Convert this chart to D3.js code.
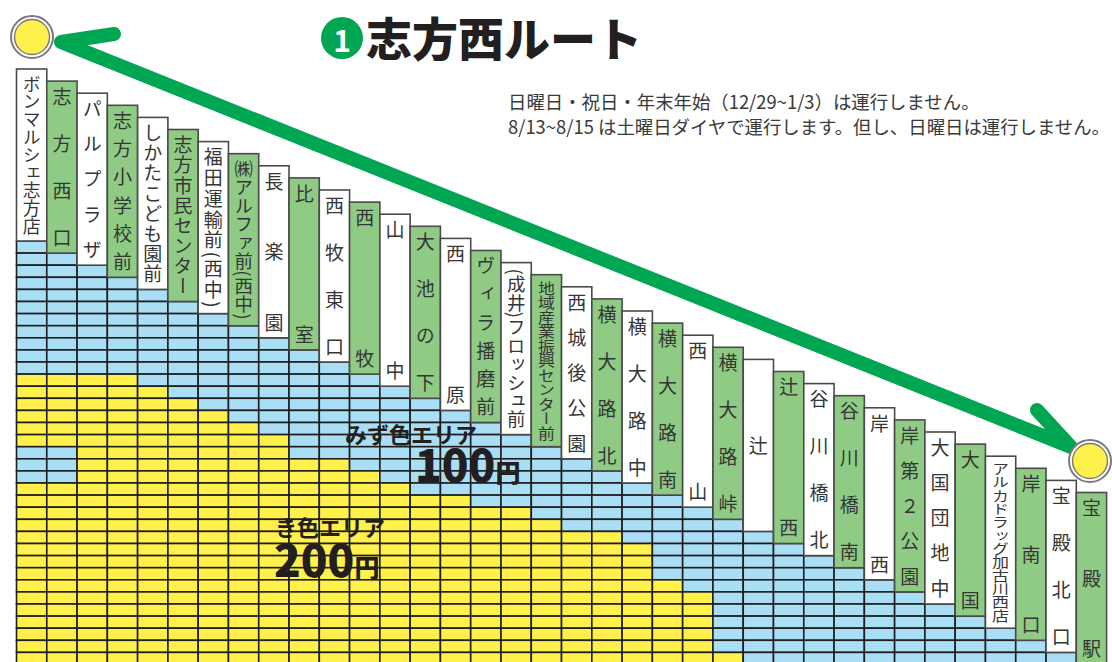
<!DOCTYPE html>
<html>
<head>
<meta charset="utf-8">
<script src="https://cdn.jsdelivr.net/npm/d3@7"></script>
<style>
  html, body { margin: 0; padding: 0; background: #fff; }
  svg { display: block; }
  text { font-family: "Noto Sans CJK JP", "Noto Sans", sans-serif; }
  .vlabel { writing-mode: vertical-rl; text-orientation: mixed; }
</style>
</head>
<body>
<svg id="chart" width="1112" height="662"></svg>
<script>
// ---------------- DATA ----------------
const routeTitle = "志方西ルート";
const routeNumber = "1";
const notes = [
  "日曜日・祝日・年末年始（12/29~1/3）は運行しません。",
  "8/13~8/15 は土曜日ダイヤで運行します。但し、日曜日は運行しません。"
];
const stops = [
  "ボンマルシェ志方店", "志方西口", "パルプラザ", "志方小学校前", "しかたこども園前",
  "志方市民センター", "福田運輸前(西中)", "㈱アルファ前(西中)", "長楽園", "比室",
  "西牧東口", "西牧", "山中", "大池の下", "西原", "ヴィラ播磨前", "(成井)フロッシュ前",
  "地域産業振興センター前", "西城後公園", "横大路北", "横大路中", "横大路南", "西山",
  "横大路峠", "辻", "辻西", "谷川橋北", "谷川橋南", "岸西", "岸第2公園", "大国団地中",
  "大国", "アルカドラッグ加古川西店", "岸南口", "宝殿北口", "宝殿駅"
];
// for each origin stop (column), the first destination stop index whose fare is 200円 (null = all 100円)
const fare200From = [12, 12, 12, 12, 13, 14, 15, 16, 17, 19, 19, 20, 21, 22, 22, 23, 23, 24,
  25, 25, 26, 29, 30, 35, null, null, null, null, null, null, null, null, null, null, null];
// exceptions inside the 200円 block that are 100円
const exceptionCols = [0, 1];
const exceptionRows = [18, 19, 20];
const fares = [100, 200];
const areaNames = ["みず色エリア", "き色エリア"];
const areaPrices = ["100", "200"];
const yenLabel = "円";

// ---------------- LAYOUT ----------------
const svg = d3.select("#chart");
const colors = { blue: "#a9def5", yellow: "#fff04c", green: "#8fcb84", arrow: "#00a651", ink: "#231f20", label: "#363636" };

const x = d3.scaleBand().domain(d3.range(stops.length)).range([16.5, 16.5 + 36 * 30.28]).padding(0);
const yRow = d3.scaleLinear().domain([1, 36]).range([241, 241 + 35 * 12.1]);
const labelH = 172;
const fareColor = d3.scaleOrdinal().domain(fares).range([colors.blue, colors.yellow]);

// cells
const cells = [];
stops.forEach((s, c) => {
  for (let j = c + 1; j < stops.length; j++) {
    let fare = 100;
    const st = fare200From[c];
    if (st != null && j >= st) fare = 200;
    if (exceptionCols.includes(c) && exceptionRows.includes(j)) fare = 100;
    cells.push({ c, j, fare });
  }
});

svg.append("g").selectAll("rect").data(cells).join("rect")
  .attr("x", d => x(d.c))
  .attr("y", d => yRow(d.j))
  .attr("width", x.bandwidth())
  .attr("height", yRow(2) - yRow(1))
  .attr("fill", d => fareColor(d.fare))
  .attr("stroke", "#1e1e1e")
  .attr("stroke-width", 1.6);

// label boxes with one vertical text per character
const gLab = svg.append("g");
const toFull = s => s.replace(/[0-9]/g, d => String.fromCharCode(d.charCodeAt(0) + 0xFEE0));
stops.forEach((name, c) => {
  const bottom = yRow(c + 1);
  const top = bottom - labelH;
  const x0 = x(c), w = x.bandwidth(), cx = x0 + w / 2;
  gLab.append("rect")
    .attr("x", x0).attr("y", top).attr("width", w).attr("height", labelH)
    .attr("fill", c % 2 === 0 ? "#ffffff" : colors.green)
    .attr("stroke", "#4a4a4a").attr("stroke-width", 1.6);

  const chars = Array.from(toFull(name));
  const n = chars.length;
  const pad = 6;
  const avail = labelH - 2 * pad;
  let fs = 19;
  const nodes = chars.map(ch => gLab.append("text")
    .attr("class", "vlabel")
    .attr("text-anchor", "middle")
    .attr("font-size", fs)
    .attr("fill", colors.label)
    .text(ch));
  let adv = nodes.map(t => t.node().getComputedTextLength());
  let S = d3.sum(adv);
  if (S > avail) {
    const k = avail / S;
    fs *= k; adv = adv.map(a => a * k); S = avail;
    nodes.forEach(t => t.attr("font-size", fs));
  }
  const sx = fs < 16 ? 17 / fs : 1;
  let centers = [];
  if (n === 1) centers = [(top + bottom) / 2];
  else {
    const gap = (avail - S) / (n - 1);
    let pos = top + pad;
    adv.forEach(a => { centers.push(pos + a / 2); pos += a + gap; });
  }
  nodes.forEach((t, k) => {
    t.attr("x", 0).attr("y", 0)
      .attr("transform", `translate(${cx},${centers[k]}) scale(${sx},1)`);
  });
});

// area labels
svg.append("text").attr("x", 345).attr("y", 443).attr("font-size", 22).attr("font-weight", 700)
  .attr("fill", colors.ink).text(areaNames[0]);
const p1 = svg.append("text").attr("x", 415).attr("y", 482).attr("fill", colors.ink).attr("font-weight", 900);
p1.append("tspan").attr("font-size", 44).text(areaPrices[0]);
p1.append("tspan").attr("font-size", 25).text(yenLabel);
svg.append("text").attr("x", 275).attr("y", 536).attr("font-size", 22).attr("font-weight", 700)
  .attr("fill", colors.ink).text(areaNames[1]);
const p2 = svg.append("text").attr("x", 274).attr("y", 577).attr("fill", colors.ink).attr("font-weight", 900);
p2.append("tspan").attr("font-size", 44).text(areaPrices[1]);
p2.append("tspan").attr("font-size", 25).text(yenLabel);

// arrow
const line = d3.line();
svg.append("path").attr("fill", "none").attr("stroke", colors.arrow)
  .attr("stroke-width", 14).attr("stroke-linecap", "round").attr("stroke-linejoin", "round")
  .attr("d", line([[114, 34], [61, 42], [1071, 447], [1037, 410]]));

// stop circles
[[32, 37], [1090, 461]].forEach(([cx, cy]) => {
  svg.append("circle").attr("cx", cx).attr("cy", cy).attr("r", 21).attr("fill", "#fff").attr("stroke", "#7a7a7a").attr("stroke-width", 2);
  svg.append("circle").attr("cx", cx).attr("cy", cy).attr("r", 17.5).attr("fill", colors.yellow).attr("stroke", "#7a7a7a").attr("stroke-width", 1.4);
});

// title
svg.append("circle").attr("cx", 342).attr("cy", 38).attr("r", 21).attr("fill", colors.arrow);
svg.append("text").attr("x", 342).attr("y", 39).attr("text-anchor", "middle").attr("dominant-baseline", "central")
  .attr("font-size", 30).attr("font-weight", 700).attr("fill", "#fff").attr("font-family", "Roboto, sans-serif").text(routeNumber);
svg.append("text").attr("x", 366).attr("y", 56).attr("font-size", 46).attr("font-weight", 900)
  .attr("fill", colors.ink).text(routeTitle);

// notes
notes.forEach((t, i) => {
  svg.append("text").attr("x", 508).attr("y", 109 + i * 25).attr("font-size", 18.4)
    .attr("fill", "#3a3a3a").text(t);
});
</script>
</body>
</html>
